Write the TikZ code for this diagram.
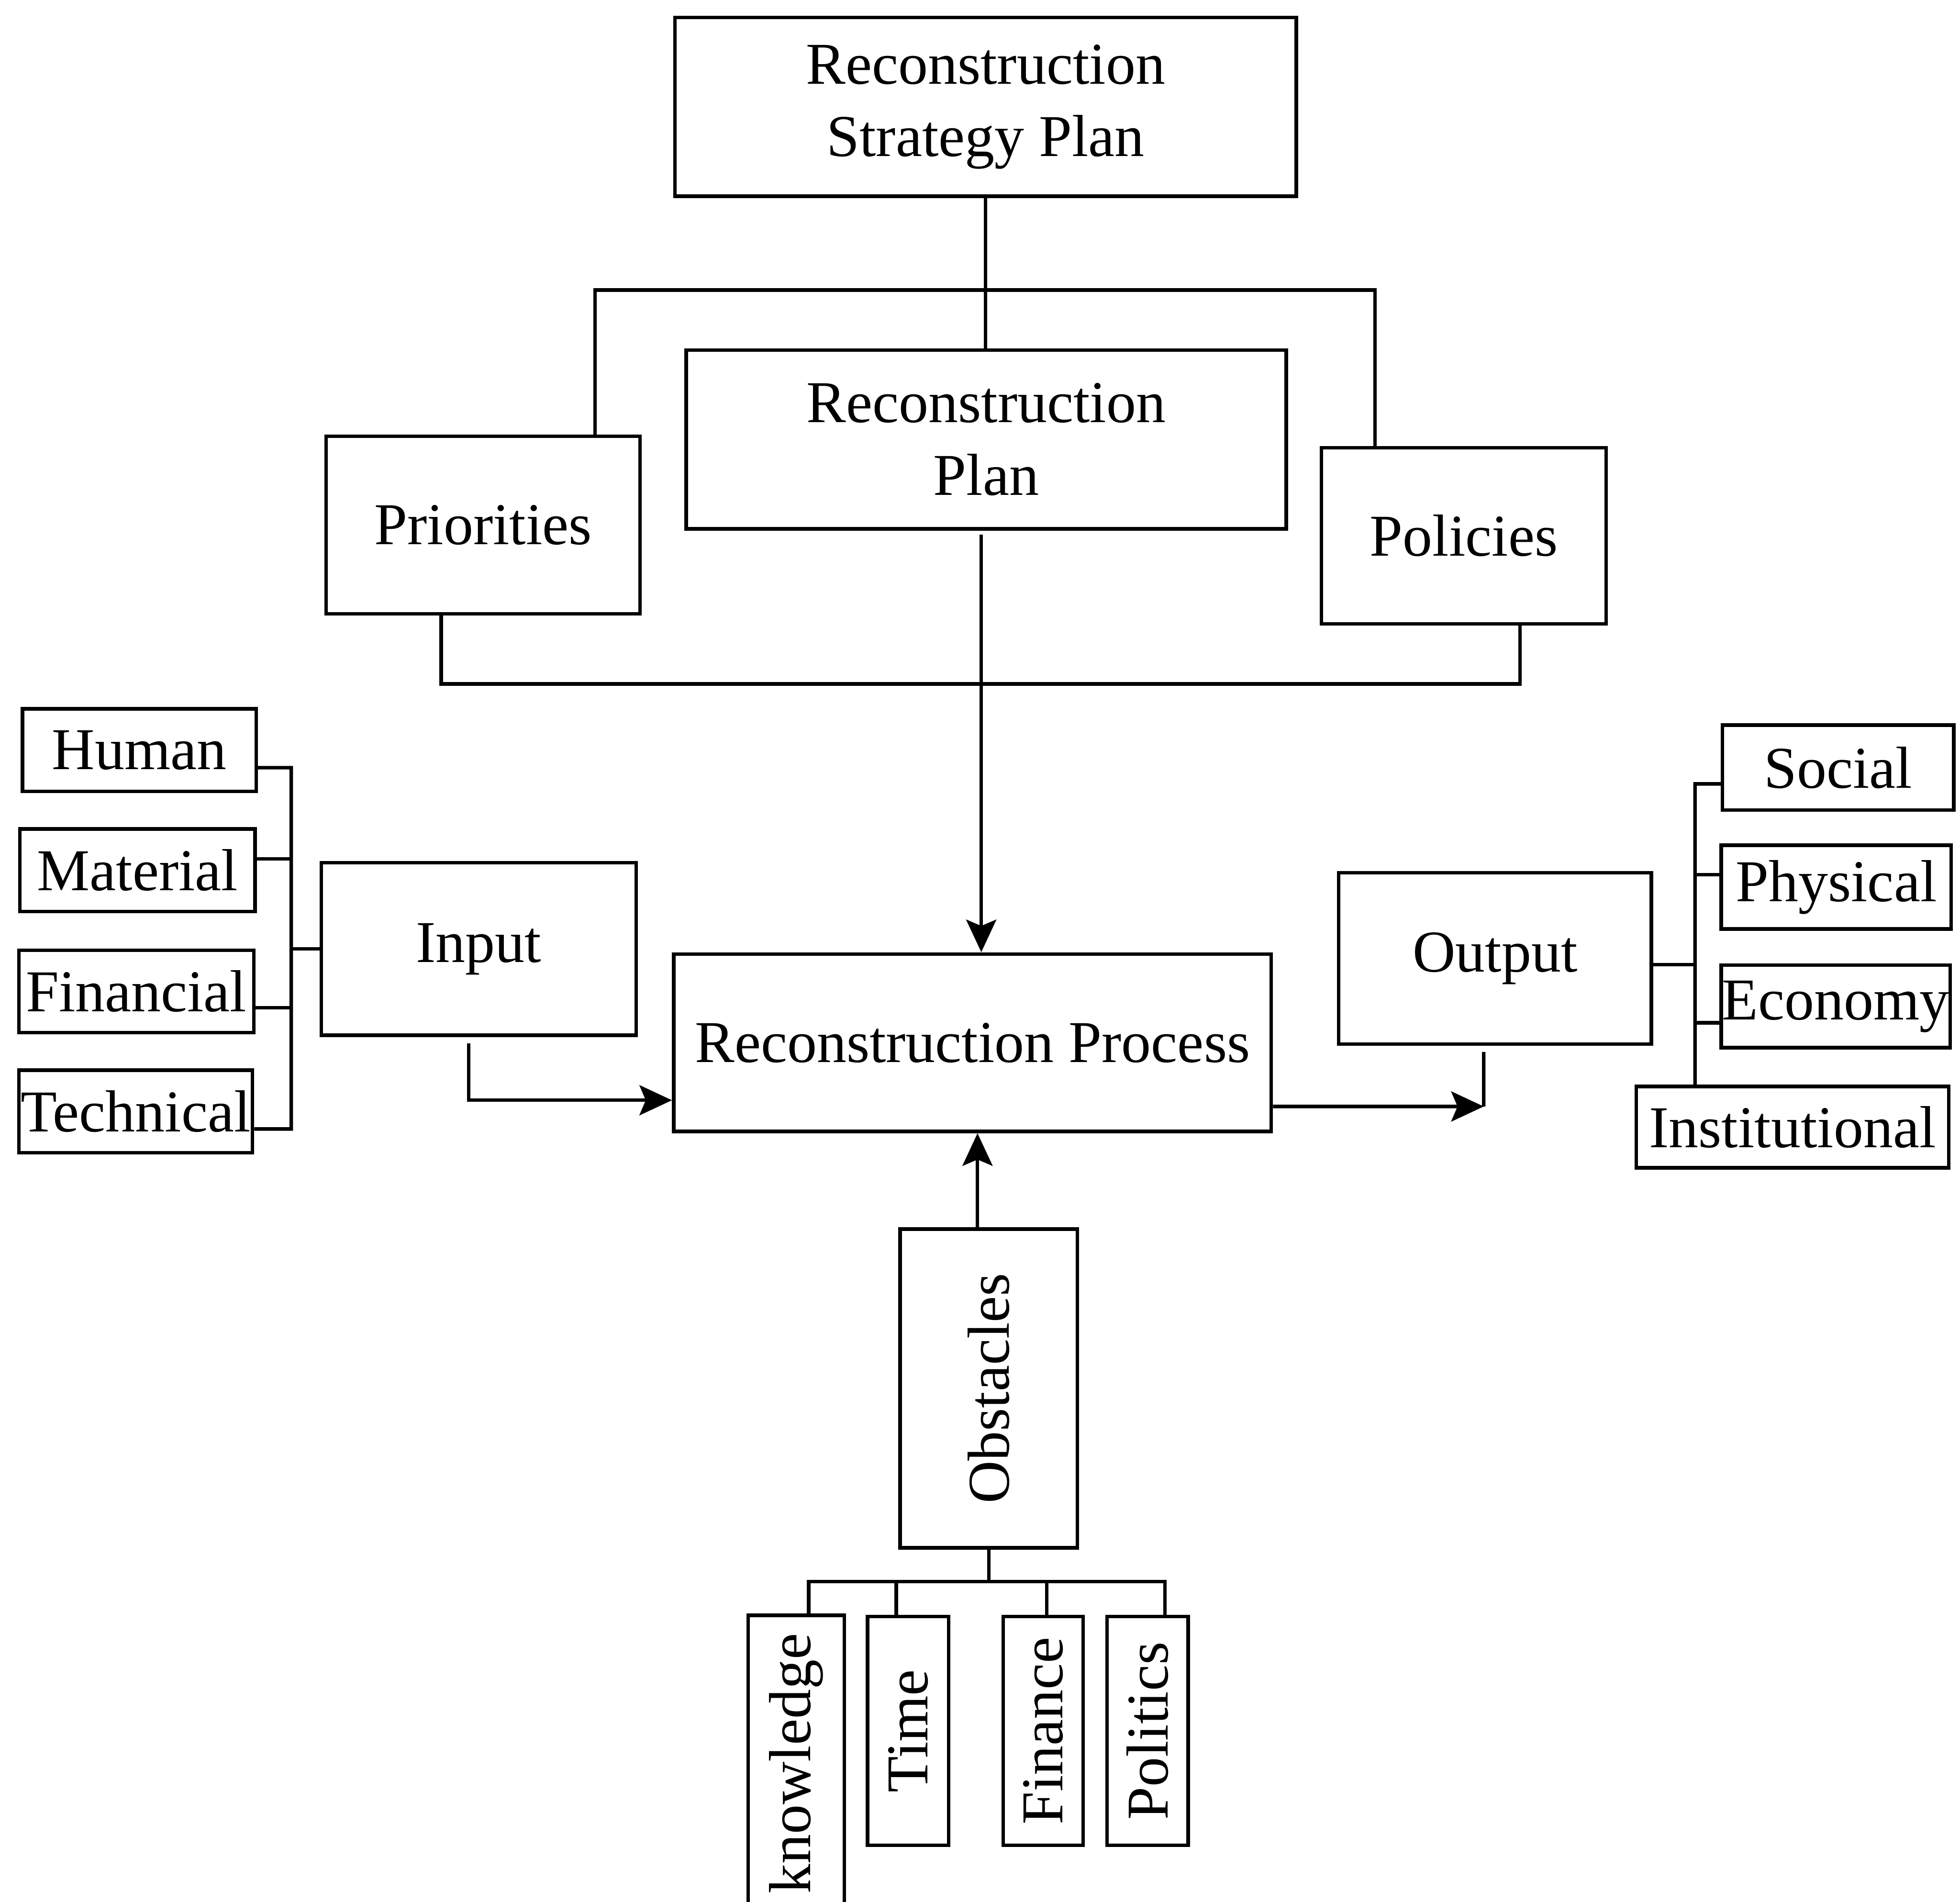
\documentclass[tikz,border=0pt]{standalone}
\usepackage{fontspec}
\setmainfont{Liberation Serif}
\usetikzlibrary{arrows.meta,positioning,calc}

\begin{document}
\begin{tikzpicture}[
  font=\fontsize{13.5}{16.5}\selectfont,
  line width=0.8pt,
  block/.style={rectangle, draw=black, line width=0.8pt, align=center, inner sep=0pt},
  item/.style={block, minimum height=0.66cm},
  upright/.style={block, rotate=90},
  arrow/.style={-{Stealth[length=2.6mm,width=2.4mm,inset=0.5mm]}, line width=0.8pt}
]
\useasboundingbox (0,0) rectangle (15.68,-15.21);

\node[block, minimum width=4.97cm, minimum height=1.43cm] (strategy) at (7.885,-0.855) {Reconstruction\\Strategy Plan};
\node[block, minimum width=4.80cm, minimum height=1.43cm] (plan) at (7.89,-3.515) {Reconstruction\\Plan};
\node[block, minimum width=2.51cm, minimum height=1.42cm] (prio) at (3.865,-4.20) {Priorities};
\node[block, minimum width=2.28cm, minimum height=1.41cm] (poli) at (11.71,-4.285) {Policies};
\node[block, minimum width=4.78cm, minimum height=1.42cm] (proc) at (7.78,-8.34) {Reconstruction Process};
\node[block, minimum width=2.52cm, minimum height=1.38cm] (input) at (3.83,-7.59) {Input};
\node[block, minimum width=2.50cm, minimum height=1.37cm] (output) at (11.96,-7.665) {Output};

\node[item, minimum width=1.87cm] (human) at (1.115,-6.00) {Human};
\node[item, minimum width=1.88cm] (material) at (1.10,-6.96) {Material};
\node[item, minimum width=1.88cm] (financial) at (1.09,-7.93) {Financial};
\node[item, minimum width=1.87cm] (technical) at (1.085,-8.89) {Technical};

\node[item, minimum width=1.85cm, minimum height=0.68cm] (social) at (14.705,-6.14) {Social};
\node[item, minimum width=1.84cm, minimum height=0.67cm] (physical) at (14.69,-7.095) {Physical};
\node[item, minimum width=1.83cm] (economy) at (14.685,-8.05) {Economy};
\node[item, minimum width=2.50cm, minimum height=0.65cm] (institutional) at (14.34,-9.015) {Institutional};

\node[upright, minimum width=2.55cm, minimum height=1.42cm] (obst) at (7.91,-11.105) {Obstacles};
\node[upright, minimum width=2.37cm, minimum height=0.77cm] (knowledge) at (6.37,-14.105) {knowledge};
\node[upright, minimum width=1.83cm, minimum height=0.65cm] (time) at (7.265,-13.845) {Time};
\node[upright, minimum width=1.83cm, minimum height=0.64cm] (finance) at (8.345,-13.845) {Finance};
\node[upright, minimum width=1.83cm, minimum height=0.65cm] (politics) at (9.18,-13.845) {Politics};

\coordinate (topL) at (4.76,-2.32);
\coordinate (topR) at (11.00,-2.32);
\coordinate (botL) at (3.53,-5.47);
\coordinate (botR) at (12.16,-5.47);
\coordinate (inTop) at (2.33,-6.14);
\coordinate (inBot) at (2.33,-9.03);
\coordinate (outTop) at (13.56,-6.27);
\coordinate (outJoin) at (11.87,-8.85);
\coordinate (planDown) at ([xshift=-0.4mm,yshift=-0.3mm]plan.south);
\coordinate (obsTop) at ([xshift=-0.9mm]obst.east);
\coordinate (obL) at (6.47,-12.65);
\coordinate (obR) at (9.32,-12.65);

\draw (strategy.south) -- (strategy.south |- plan.north);
\draw (prio.north -| topL) -- (topL) -- (topR) -- (poli.north -| topR);
\draw (prio.south -| botL) -- (botL) -- (botR) -- (poli.south -| botR);
\draw[arrow] (planDown) -- (planDown |- proc.north);

\draw ([yshift=-1.4mm]human.east) -- (inTop) -- (inBot) -- ([yshift=-1.4mm]technical.east);
\draw ([yshift=0.9mm]material.east) -| (inTop);
\draw ([yshift=-1.3mm]financial.east) -| (inTop);
\draw (input.west) -| (inTop);
\draw[arrow] ([xshift=-0.8mm,yshift=-0.5mm]input.south) |- ([yshift=-4.6mm]proc.west);

\draw[arrow] ([yshift=-5.1mm]proc.east) -- (outJoin);
\draw ([xshift=-0.9mm,yshift=-0.5mm]output.south) -- (outJoin);
\draw ([yshift=-1.3mm]social.west) -- (outTop) -- (institutional.north -| outTop);
\draw ([yshift=1mm]physical.west) -| (outTop);
\draw ([yshift=-1.3mm]economy.west) -| (outTop);
\draw ([yshift=-0.5mm]output.east) -| (outTop);

\draw[arrow] (obsTop) -- (obsTop |- proc.south);
\draw (obst.west) -- (obst.west |- obL);
\draw (knowledge.east -| obL) -- (obL) -- (obR) -- (politics.east -| obR);
\draw ([xshift=-0.95mm]time.east) |- (obL);
\draw ([xshift=0.3mm]finance.east) |- (obR);
\end{tikzpicture}
\end{document}
